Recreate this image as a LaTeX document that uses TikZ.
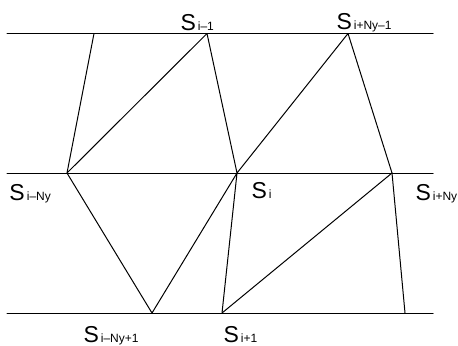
\documentclass[tikz,border=0pt]{standalone}
\usepackage{fontspec}
\setmainfont{Liberation Sans}
\newcommand{\Ssub}[1]{S\kern1pt{\fontsize{6}{7}\selectfont #1}}
\begin{document}
\begin{tikzpicture}[x=0.5pt, y=-0.5pt, line cap=round, line join=round, line width=0.5pt]
  \tikzset{lab/.style={anchor=base west, inner sep=0pt, font=\fontsize{11.5}{14}\selectfont}}
  \useasboundingbox (0,0) rectangle (458,345);
  % the three rows
  \foreach \row/\yy in {top/33.5, mid/173, bot/313} {
    \coordinate (\row-l) at (7,\yy);
    \coordinate (\row-r) at (433,\yy);
    \draw (\row-l) -- (\row-r);
  }
  % nodes on the rows
  \coordinate (t1) at (94,33.5);
  \coordinate (t2) at (207,33.5);
  \coordinate (t3) at (348,33.5);
  \coordinate (m1) at (67,173);
  \coordinate (m2) at (237,173);
  \coordinate (m3) at (392,173);
  \coordinate (b1) at (152,313);
  \coordinate (b2) at (222,313);
  \coordinate (b3) at (405,313);
  % triangles
  \draw (t1) -- (m1) -- (t2) -- (m2) -- (t3) -- (m3) -- (b3);
  \draw (m1) -- (b1) -- (m2) -- (b2) -- (m3);
  % labels
  \node[lab] (s-im1) at (180,30) {\Ssub{i--1}};
  \node[lab] (s-ipnm1) at (336,29) {\Ssub{i+Ny--1}};
  \node[lab] (s-imn) at (9,200) {\Ssub{i--Ny}};
  \node[lab] (s-i) at (251,198) {\Ssub{i}};
  \node[lab] (s-ipn) at (415,200) {\Ssub{i+Ny}};
  \node[lab] (s-imnp1) at (83,342) {\Ssub{i--Ny+1}};
  \node[lab] (s-ip1) at (223,342) {\Ssub{i+1}};
\end{tikzpicture}
\end{document}
